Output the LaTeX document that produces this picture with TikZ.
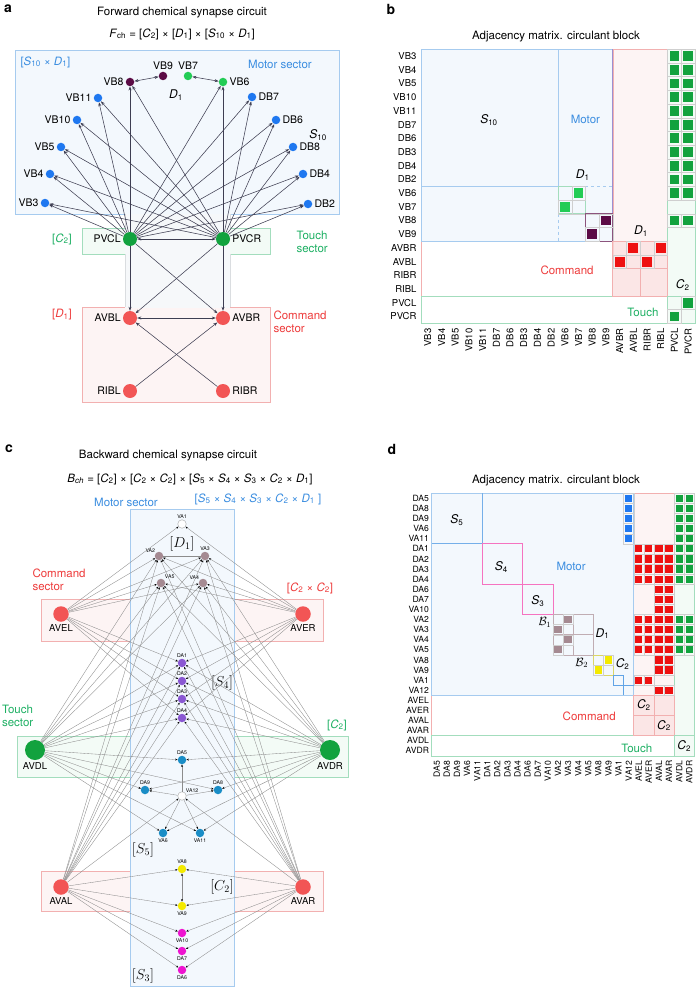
\documentclass[tikz,border=0pt]{standalone}
\usepackage{fontspec}
\setmainfont{TeX Gyre Heros}
\usetikzlibrary{arrows.meta}
\definecolor{mblue}{HTML}{3A8DE0}
\definecolor{mbluefill}{HTML}{F3F8FD}
\definecolor{mblueline}{HTML}{A6CBEF}
\definecolor{cred}{HTML}{EE3B3B}
\definecolor{credfill}{HTML}{FDF4F4}
\definecolor{credfill2}{HTML}{FBE6E6}
\definecolor{credline}{HTML}{F2B0B0}
\definecolor{tgreen}{HTML}{1DB063}
\definecolor{tgreenfill}{HTML}{F3FBF6}
\definecolor{tgreenline}{HTML}{A3DDBD}
\definecolor{purpline}{HTML}{9C8FD0}
\definecolor{nblue}{HTML}{1F78F0}
\definecolor{npurp}{HTML}{5B0B45}
\definecolor{nlgreen}{HTML}{22CC55}
\definecolor{ngreen}{HTML}{12A23E}
\definecolor{nred}{HTML}{F25555}
\definecolor{cellred}{HTML}{EE1111}
\definecolor{nmauve}{HTML}{A58A92}
\definecolor{nviolet}{HTML}{8A58D2}
\definecolor{nteal}{HTML}{1A8DC6}
\definecolor{nyellow}{HTML}{F4EA00}
\definecolor{nmag}{HTML}{EE14D0}
\definecolor{edgea}{HTML}{3E3E52}
\definecolor{edgec}{HTML}{8C8C8C}
\definecolor{gridc}{HTML}{CFCFCF}
\definecolor{bandfill}{HTML}{F6F8FA}
\definecolor{bandline}{HTML}{DADDE0}
\newcommand{\mysub}[2]{\textit{#1}\textsubscript{#2}}
\newcommand{\mcell}[3]{\draw[gridc,line width=0.4pt] (#1,#2) rectangle ++(1,1);
  \fill[#3] ({#1+0.14},{#2+0.14}) rectangle ({#1+0.86},{#2+0.86});}
\tikzset{
  ttl/.style={font=\fontsize{11.5}{13}\selectfont},
  plet/.style={font=\fontsize{14}{16}\selectfont\bfseries},
  lab/.style={font=\fontsize{10.5}{12}\selectfont, inner sep=2pt},
  sect/.style={font=\fontsize{11.5}{15}\selectfont, align=left},
  rowlab/.style={font=\fontsize{9.5}{11}\selectfont, anchor=east, inner sep=1pt},
  rowlabd/.style={font=\fontsize{8.6}{10}\selectfont, anchor=east, inner sep=1pt},
  mtxt/.style={font=\fontsize{12}{14}\selectfont},
  cmtxt/.style={font=\fontsize{14.5}{16}\selectfont},
  dotn/.style={circle, inner sep=0pt, minimum size=#1},
  dotn/.default=8.5pt,
  tl/.style={font=\fontsize{5.2}{6}\selectfont, inner sep=0.6pt},
  clab/.style={font=\fontsize{9.5}{11}\selectfont, inner sep=2pt},
  aedge/.style={draw=edgea, line width=0.55pt, -{Stealth[length=4pt,width=3pt]}},
  aboth/.style={draw=edgea, line width=0.55pt, {Stealth[length=4pt,width=3pt]}-{Stealth[length=4pt,width=3pt]}},
  cedge/.style={draw=edgec, line width=0.35pt, -{Stealth[length=2.4pt,width=2pt,color=black]}},
  cboth/.style={draw=edgec, line width=0.35pt, {Stealth[length=2.4pt,width=2pt,color=black]}-{Stealth[length=2.4pt,width=2pt,color=black]}}
}
\begin{document}
\begin{tikzpicture}[x=1pt,y=-1pt]
\path[use as bounding box,fill=white] (0,0) rectangle (696,987);

%%%%%%%%%%%%%%%% PANEL A
\node[plet] (la) at (8,9) {a};
\node[ttl] (ta) at (182,13) {Forward chemical synapse circuit};
\node[ttl] (fa) at (182,34) {\mysub{F}{ch} = [\mysub{C}{2}] × [\mysub{D}{1}] × [\mysub{S}{10} × \mysub{D}{1}]};
\filldraw[fill=mbluefill, draw=mblueline, line width=0.8pt] (15,50) rectangle (339,214);
\filldraw[fill=tgreenfill, draw=tgreenline, line width=0.8pt] (82,228) rectangle (270,254);
\filldraw[fill=credfill, draw=credline, line width=0.8pt] (82,307) rectangle (270,402);
\fill[bandfill] (125.4,214.4) rectangle (229.6,307.6);
\draw[bandline, line width=0.6pt] (125,214.4) -- (125,228) (125,254) -- (125,307) (230,214.4) -- (230,228) (230,254) -- (230,307);
\node[sect, text=mblue, anchor=west] (sa1) at (17,62) {[\mysub{S}{10} × \mysub{D}{1}]};
\node[sect, text=mblue] (sa2) at (280,64) {Motor sector};
\node[mtxt] (sa3) at (176,95) {\mysub{D}{1}};
\node[mtxt] (sa4) at (318,135) {\mysub{S}{10}};
\node[sect, text=tgreen] (sa5) at (62,239) {[\mysub{C}{2}]};
\node[sect, text=tgreen, anchor=west] (sa6) at (293,242) {Touch\\[-2pt]sector};
\node[sect, text=cred] (sa7) at (62,315) {[\mysub{D}{1}]};
\node[sect, text=cred, anchor=west] (sa8) at (270,322) {Command\\[-2pt]sector};

\node[dotn, fill=nblue, label={[lab]left:VB3}] (VB3) at (45,203) {};
\node[dotn, fill=nblue, label={[lab]left:VB4}] (VB4) at (50,174) {};
\node[dotn, fill=nblue, label={[lab]left:VB5}] (VB5) at (61,147) {};
\node[dotn, fill=nblue, label={[lab]left:VB10}] (VB10) at (77,120) {};
\node[dotn, fill=nblue, label={[lab]left:VB11}] (VB11) at (98,98) {};
\node[dotn, fill=npurp, label={[lab]left:VB8}] (VB8) at (130,82) {};
\node[dotn, fill=npurp, label={[lab]above:VB9}] (VB9) at (163,76) {};
\node[dotn, fill=nlgreen, label={[lab]above:VB7}] (VB7) at (188,76) {};
\node[dotn, fill=nlgreen, label={[lab]right:VB6}] (VB6) at (223,82) {};
\node[dotn, fill=nblue, label={[lab]right:DB7}] (DB7) at (252,97) {};
\node[dotn, fill=nblue, label={[lab]right:DB6}] (DB6) at (276,120) {};
\node[dotn, fill=nblue, label={[lab]right:DB8}] (DB8) at (293,147) {};
\node[dotn, fill=nblue, label={[lab]right:DB4}] (DB4) at (303,174) {};
\node[dotn, fill=nblue, label={[lab]right:DB2}] (DB2) at (308,204) {};
\node[dotn=14pt, fill=ngreen, label={[lab]left:PVCL}] (PVCL) at (130,239) {};
\node[dotn=14pt, fill=ngreen, label={[lab]right:PVCR}] (PVCR) at (223,239) {};
\node[dotn=14pt, fill=nred, label={[lab]left:AVBL}] (AVBL) at (130,318) {};
\node[dotn=14pt, fill=nred, label={[lab]right:AVBR}] (AVBR) at (223,318) {};
\node[dotn=14pt, fill=nred, label={[lab]left:RIBL}] (RIBL) at (130,391) {};
\node[dotn=14pt, fill=nred, label={[lab]right:RIBR}] (RIBR) at (223,391) {};

\foreach \t in {VB3,VB4,VB5,VB10,VB11,VB8,VB6,DB7,DB6,DB8,DB4,DB2} {
  \draw[aedge] (PVCL) -- (\t);
  \draw[aedge] (PVCR) -- (\t);
}
\draw[aboth] (VB8) -- (VB9);
\draw[aboth] (VB7) -- (VB6);
\draw[aboth] (PVCL) -- (PVCR);
\draw[aedge] (PVCL) -- (AVBL);
\draw[aedge] (PVCL) -- (AVBR);
\draw[aedge] (PVCR) -- (AVBR);
\draw[aedge] (PVCR) -- (AVBL);
\draw[aboth] (AVBL) -- (AVBR);
\draw[aedge] (RIBL) -- (AVBR);
\draw[aedge] (RIBR) -- (AVBL);

%%%%%%%%%%%%%%%% PANEL B
\node[plet] (lb) at (391,9) {b};
\node[ttl] (tb) at (556,37) {Adjacency matrix. circulant block};
\begin{scope}[shift={(421,49.3)},x=13.7pt,y=-13.7pt]
  \fill[mbluefill] (0,0) rectangle (14,14);
  \filldraw[fill=credfill, draw=credline, line width=0.6pt] (14,0) rectangle (18,18);
  \filldraw[fill=tgreenfill, draw=tgreenline, line width=0.6pt] (18,0) rectangle (20,20);
  \draw[credline, line width=0.6pt] (0,14) -- (0,18);
  \draw[tgreenline, line width=0.6pt] (0,18) rectangle (18,20);
  \draw[mblueline, line width=0.7pt] (0,0) rectangle (14,14);
  \draw[mblueline, line width=0.7pt] (0,10) -- (10,10) -- (10,0);
  \draw[mblueline, line width=0.7pt, dashed] (12,10) -- (14,10);
  \draw[mblueline, line width=0.7pt, dashed] (10,12) -- (10,14);
  \draw[purpline, line width=0.7pt] (14,0) -- (14,14);
  % green D1
  \foreach \i in {10,11} \foreach \j in {10,11} \draw[gridc, line width=0.4pt] (\i,\j) rectangle ++(1,1);
  \draw[tgreenline, line width=0.7pt] (10,10) rectangle (12,12);
  \mcell{11}{10}{nlgreen}
  \mcell{10}{11}{nlgreen}
  % purple
  \foreach \i in {12,13} \foreach \j in {12,13} \draw[gridc, line width=0.4pt] (\i,\j) rectangle ++(1,1);
  \draw[npurp!70, line width=0.7pt] (12,12) rectangle (14,14);
  \mcell{13}{12}{npurp}
  \mcell{12}{13}{npurp}
  % red D1
  \fill[credfill2] (14,14) rectangle (18,18);
  \foreach \i in {14,...,17} \foreach \j in {14,15} \draw[credline!60, line width=0.4pt] (\i,\j) rectangle ++(1,1);
  \draw[credline, line width=0.7pt] (14,14) rectangle (18,18) (16,14) -- (16,18) (14,16) -- (18,16);
  \mcell{15}{14}{cellred}
  \mcell{17}{14}{cellred}
  \mcell{14}{15}{cellred}
  \mcell{16}{15}{cellred}
  % green columns
  \foreach \j in {0,...,10,12} \foreach \i in {18,19} {\mcell{\i}{\j}{ngreen}}
  \draw[tgreenline, line width=0.7pt] (18,18) rectangle (20,20);
  \mcell{19}{18}{ngreen}
  \mcell{18}{19}{ngreen}
  % labels
  \node[mtxt] (bs10) at (4.96,5.16) {\mysub{S}{10}};
  \node[sect, text=mblue] (bmot) at (12,5.1) {Motor};
  \node[mtxt] (bd1a) at (11.8,9.2) {\mysub{D}{1}};
  \node[mtxt] (bd1b) at (16.06,13.26) {\mysub{D}{1}};
  \node[sect, text=cred] (bcmd) at (10.66,16.1) {Command};
  \node[mtxt] (bc2) at (19.1,17.2) {\mysub{C}{2}};
  \node[sect, text=tgreen] (btch) at (16.2,19.2) {Touch};
  \foreach \n [count=\i from 0] in {VB3,VB4,VB5,VB10,VB11,DB7,DB6,DB3,DB4,DB2,VB6,VB7,VB8,VB9,AVBR,AVBL,RIBR,RIBL,PVCL,PVCR} {
    \node[rowlab] (br\i) at (-0.25,\i+0.5) {\n};
    \node[rowlab, rotate=90] (bc\i) at (\i+0.5,20.3) {\n};
  }
\end{scope}

%%%%%%%%%%%%%%%% PANEL C
\node[plet] (lc) at (9,449) {c};
\node[ttl] (tc) at (168,456) {Backward chemical synapse circuit};
\node[ttl] (fc) at (190,479) {\textit{B}\textsubscript{\textit{ch}} = [\mysub{C}{2}] × [\mysub{C}{2} × \mysub{C}{2}] × [\mysub{S}{5} × \mysub{S}{4} × \mysub{S}{3} × \mysub{C}{2} × \mysub{D}{1}]};
\filldraw[fill=credfill, draw=credline, line width=0.6pt] (41,599) rectangle (323,641);
\filldraw[fill=tgreenfill, draw=tgreenline, line width=0.6pt] (17,736) rectangle (348,777);
\filldraw[fill=credfill, draw=credline, line width=0.6pt] (41,871) rectangle (323,911);
\filldraw[fill=mbluefill, draw=mblueline, line width=0.6pt] (130,509) rectangle (234,986.5);
\node[sect, text=mblue] (sc1) at (126,502) {Motor sector};
\node[sect, text=mblue] (sc2) at (258,499) {[\mysub{S}{5} × \mysub{S}{4} × \mysub{S}{3} × \mysub{C}{2} × \mysub{D}{1} ]};
\node[sect, text=cred, anchor=west] (sc3) at (29,580) {Command\\[-2pt]sector};
\node[sect, text=cred] (sc4) at (310,588) {[\mysub{C}{2} × \mysub{C}{2}]};
\node[sect, text=tgreen, anchor=west] (sc5) at (-1.5,716) {Touch\\[-2pt]sector};
\node[sect, text=tgreen] (sc6) at (337,725) {[\mysub{C}{2}]};
\node[cmtxt] (cm1) at (182,544) {$[D_1]$};
\node[cmtxt] (cm2) at (222,683) {$[S_4]$};
\node[cmtxt] (cm3) at (143,850) {$[S_5]$};
\node[cmtxt] (cm4) at (222,887) {$[C_2]$};
\node[cmtxt] (cm5) at (143,976) {$[S_3]$};

\node[dotn, fill=white, draw=gray!70, line width=0.4pt, label={[tl]above:VA1}] (VA1) at (182,524) {};
\node[dotn, fill=nmauve, label={[tl]above left:VA2}] (VA2) at (159,556) {};
\node[dotn, fill=nmauve, label={[tl]above:VA3}] (VA3) at (205,556) {};
\node[dotn, fill=nmauve, label={[tl]above right:VA5}] (VA5) at (161,583) {};
\node[dotn, fill=nmauve, label={[tl]above left:VA4}] (VA4) at (203,583) {};
\node[dotn, fill=nviolet, label={[tl]above:DA1}] (DA1) at (182,663) {};
\node[dotn, fill=nviolet, label={[tl]above:DA2}] (DA2) at (182,681) {};
\node[dotn, fill=nviolet, label={[tl]above:DA3}] (DA3) at (182,699) {};
\node[dotn, fill=nviolet, label={[tl]above:DA4}] (DA4) at (182,718) {};
\node[dotn, fill=nteal, label={[tl]above:DA5}] (DA5) at (182,760) {};
\node[dotn, fill=nteal, label={[tl]above:DA9}] (DA9) at (145,790) {};
\node[dotn, fill=nteal, label={[tl]above:DA8}] (DA8) at (218,790) {};
\node[dotn, fill=white, draw=gray!70, line width=0.4pt, label={[tl]above right:VA12}] (VA12) at (182,796) {};
\node[dotn, fill=nteal, label={[tl]below:VA6}] (VA6) at (163,833) {};
\node[dotn, fill=nteal, label={[tl]below:VA11}] (VA11) at (200,833) {};
\node[dotn, fill=nyellow, label={[tl]above:VA8}] (VA8) at (182,869) {};
\node[dotn, fill=nyellow, label={[tl]below:VA9}] (VA9) at (182,906) {};
\node[dotn, fill=nmag, label={[tl]below:VA10}] (VA10) at (182,933) {};
\node[dotn, fill=nmag, label={[tl]below:DA7}] (DA7) at (182,951) {};
\node[dotn, fill=nmag, label={[tl]below:DA6}] (DA6) at (182,970) {};
\node[dotn=15.5pt, fill=nred, label={[clab]below:AVEL}] (AVEL) at (61,614) {};
\node[dotn=15.5pt, fill=nred, label={[clab]below:AVER}] (AVER) at (303,614) {};
\node[dotn=20pt, fill=ngreen, label={[clab]below:AVDL}] (AVDL) at (35,750) {};
\node[dotn=20pt, fill=ngreen, label={[clab]below:AVDR}] (AVDR) at (330,750) {};
\node[dotn=15.5pt, fill=nred, label={[clab]below:AVAL}] (AVAL) at (61,887) {};
\node[dotn=15.5pt, fill=nred, label={[clab]below:AVAR}] (AVAR) at (303,887) {};

\foreach \s in {AVEL,AVER} \foreach \t in {VA1,VA2,VA3,VA4,VA5,DA1,DA2,DA3,DA4} {\draw[cedge] (\s) -- (\t);}
\foreach \s in {AVAL,AVAR} \foreach \t in {VA2,VA3,VA4,VA5,DA1,DA2,DA3,DA4,DA6,DA7,VA10,VA8,VA9,VA12} {\draw[cedge] (\s) -- (\t);}
\foreach \s in {AVDL,AVDR} \foreach \t in {DA5,DA8,DA9,VA6,VA11,DA1,DA2,DA3,DA4,VA2,VA3,VA4,VA5} {\draw[cedge] (\s) -- (\t);}
\foreach \t in {DA5,DA8,DA9,VA6,VA11} {\draw[cedge] (VA12) -- (\t);}
\draw[draw=edgec, line width=0.35pt] (VA2) -- (VA3);
\draw[cboth] (VA8) -- (VA9);

%%%%%%%%%%%%%%%% PANEL D
\node[plet] (ld) at (392,449) {d};
\node[ttl] (td) at (556,481) {Adjacency matrix. circulant block};
\begin{scope}[shift={(431.7,493.3)},x=10.1pt,y=-10.1pt]
  \fill[mbluefill] (0,0) rectangle (20,20);
  \filldraw[fill=credfill, draw=credline, line width=0.6pt] (20,0) rectangle (24,24);
  \filldraw[fill=tgreenfill, draw=tgreenline, line width=0.6pt] (24,0) rectangle (26,26);
  \draw[credline, line width=0.6pt] (0,20) -- (0,24);
  \draw[tgreenline, line width=0.6pt] (0,24) rectangle (24,26);
  \draw[mblueline, line width=0.7pt] (0,0) rectangle (20,20);
  \draw[mblue!70, line width=0.7pt] (5,0) -- (5,5) -- (0,5);
  \draw[magenta!55, line width=0.7pt] (5,5) rectangle (9,9);
  \draw[magenta!55, line width=0.7pt] (9,9) rectangle (12,12);
  % B1
  \foreach \i in {12,13} \foreach \j in {12,...,15} \draw[gridc, line width=0.4pt] (\i,\j) rectangle ++(1,1);
  \draw[nmauve!70, line width=0.7pt] (12,12) rectangle (16,16) (14,12) -- (14,16) (12,14) -- (16,14);
  \mcell{13}{12}{nmauve}
  \mcell{12}{13}{nmauve}
  \mcell{13}{14}{nmauve}
  \mcell{12}{15}{nmauve}
  % B2
  \foreach \i in {16,17} \foreach \j in {16,17} \draw[gridc, line width=0.4pt] (\i,\j) rectangle ++(1,1);
  \draw[nyellow!80!black!60, line width=0.7pt] (16,16) rectangle (18,18);
  \mcell{17}{16}{nyellow}
  \mcell{16}{17}{nyellow}
  % C2 blue
  \draw[mblue!80, line width=0.7pt] (18,18) rectangle (19,19) (19,19) -- (20,19) (19,19) -- (19,20);
  % command block
  \fill[credfill2] (20,20) rectangle (24,24);
  \draw[credline, line width=0.6pt] (20,20) rectangle (24,24) (22,20) -- (22,24) (20,22) -- (24,22);
  \draw[tgreenline, line width=0.7pt] (24,24) rectangle (26,26);
  % entries
  \foreach \j in {0,...,4} {\mcell{19}{\j}{nblue}}
  \foreach \j in {5,...,8,12,13,14,15} \foreach \i in {20,...,23} {\mcell{\i}{\j}{cellred}}
  \foreach \j in {9,10,11,16,17,19} \foreach \i in {22,23} {\mcell{\i}{\j}{cellred}}
  \foreach \i in {20,21} {\mcell{\i}{18}{cellred}}
  \foreach \j in {0,...,8,12,13,14,15} \foreach \i in {24,25} {\mcell{\i}{\j}{ngreen}}
  % labels
  \node[mtxt] (ds5) at (2.5,2.64) {\mysub{S}{5}};
  \node[mtxt] (ds4) at (6.9,7.3) {\mysub{S}{4}};
  \node[sect, text=mblue] (dmot) at (13.8,7.2) {Motor};
  \node[mtxt] (ds3) at (10.5,10.7) {\mysub{S}{3}};
  \node[mtxt] (db1) at (11.2,12.8) {$\mathcal{B}_1$};
  \node[mtxt] (dd1) at (16.9,13.9) {\mysub{D}{1}};
  \node[mtxt] (db2) at (14.85,16.8) {$\mathcal{B}_2$};
  \node[mtxt] (dc2a) at (18.9,16.9) {\mysub{C}{2}};
  \node[sect, text=cred] (dcmd) at (15.6,22.1) {Command};
  \node[sect, text=tgreen] (dtch) at (20.3,25.25) {Touch};
  \node[mtxt] (dc2b) at (21,21) {\mysub{C}{2}};
  \node[mtxt] (dc2c) at (23,23) {\mysub{C}{2}};
  \node[mtxt] (dc2d) at (25,25) {\mysub{C}{2}};
  \foreach \n [count=\i from 0] in {DA5,DA8,DA9,VA6,VA11,DA1,DA2,DA3,DA4,DA6,DA7,VA10,VA2,VA3,VA4,VA5,VA8,VA9,VA1,VA12,AVEL,AVER,AVAL,AVAR,AVDL,AVDR} {
    \node[rowlabd] (dr\i) at (-0.15,\i+0.5) {\n};
    \node[rowlabd, rotate=90] (dc\i) at (\i+0.5,26.35) {\n};
  }
\end{scope}
\end{tikzpicture}
\end{document}
